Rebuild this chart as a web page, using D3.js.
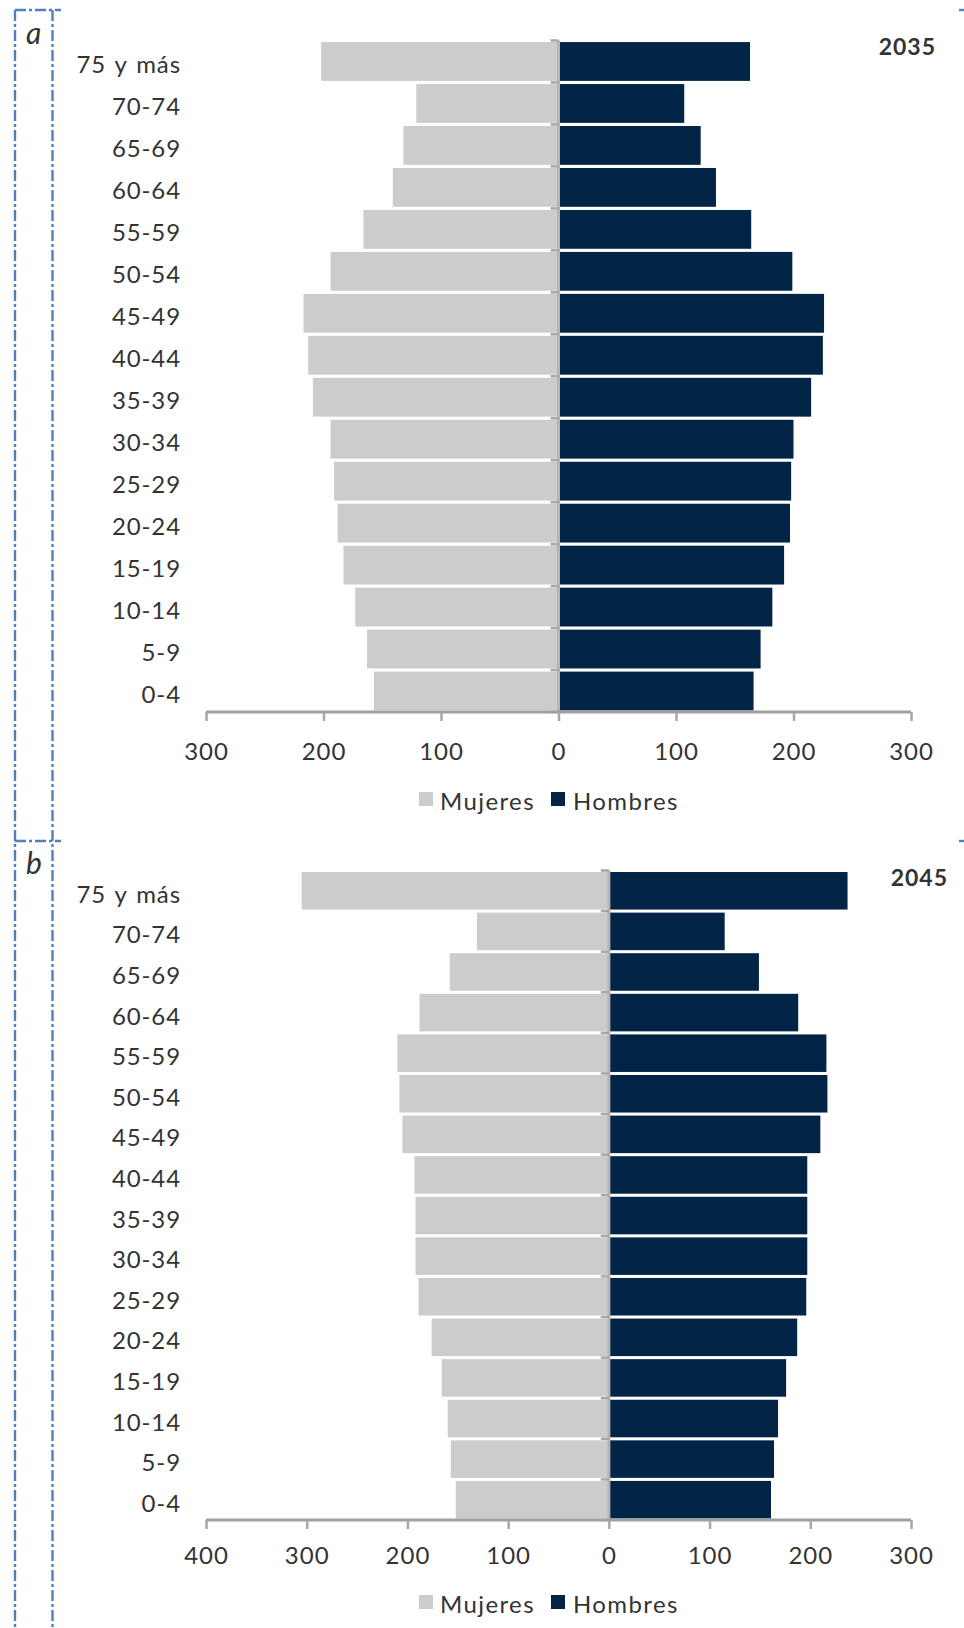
<!DOCTYPE html>
<html><head><meta charset="utf-8">
<script src="https://cdn.jsdelivr.net/npm/d3@7"></script>
<style>
html,body{margin:0;padding:0;background:#fff;}
svg{display:block;}
text{font-family:Lato,"Open Sans",sans-serif;fill:#333;}
</style></head>
<body>
<svg id="chart" width="964" height="1628"></svg>
<script>
const categories = ["75 y más","70-74","65-69","60-64","55-59","50-54","45-49","40-44","35-39","30-34","25-29","20-24","15-19","10-14","5-9","0-4"];
const mujeres2035 = [202,121,132,141,166,194,217,213,209,194,191,188,183,173,163,157];
const hombres2035 = [163,107,121,134,164,199,226,225,215,200,198,197,192,182,172,166];
const mujeres2045 = [305,131,158,188,210,208,205,193,192,192,189,176,166,160,157,152];
const hombres2045 = [237,115,149,188,216,217,210,197,197,197,196,187,176,168,164,161];
const ticks2035 = [-300,-200,-100,0,100,200,300];
const ticks2045 = [-400,-300,-200,-100,0,100,200,300];
const seriesNames = ["Mujeres","Hombres"];
const colors = ["#cccccc","#022547"];

const svg = d3.select("#chart");
svg.append("rect").attr("width",964).attr("height",1628).attr("fill","#fff");

// dashed frame
const frame = svg.append("g").attr("stroke","#4f81bd").attr("stroke-width",2.4).attr("stroke-dasharray","11,3,3,3").attr("fill","none");
frame.append("line").attr("x1",15).attr("x2",15).attr("y1",10).attr("y2",1628);
frame.append("line").attr("x1",52.5).attr("x2",52.5).attr("y1",10).attr("y2",1628);
frame.append("line").attr("x1",15).attr("x2",61).attr("y1",10).attr("y2",10);
frame.append("line").attr("x1",15).attr("x2",61).attr("y1",841).attr("y2",841);
frame.append("line").attr("x1",959).attr("x2",964).attr("y1",10).attr("y2",10).attr("stroke-dasharray",null);
frame.append("line").attr("x1",959).attr("x2",964).attr("y1",841).attr("y2",841).attr("stroke-dasharray",null);

svg.append("text").attr("x",26).attr("y",44).attr("font-size",30).attr("font-style","italic").text("a");
svg.append("text").attr("x",26).attr("y",874).attr("font-size",30).attr("font-style","italic").text("b");

function pyramid(cfg){
  const g = svg.append("g");
  const x = d3.scaleLinear().domain(cfg.domain).range([206,911]);
  const y = d3.scaleBand().domain(categories).range([cfg.top, cfg.axisY]).paddingInner(0.075).paddingOuter(0.0375);
  const x0 = x(0);
  // bars
  g.selectAll("rect.m").data(categories).join("rect")
    .attr("x",(d,i)=>x(-cfg.mujeres[i])).attr("width",(d,i)=>x0-x(-cfg.mujeres[i]))
    .attr("y",d=>y(d)).attr("height",y.bandwidth()).attr("fill",colors[0]);
  g.selectAll("rect.h").data(categories).join("rect")
    .attr("x",x0).attr("width",(d,i)=>x(cfg.hombres[i])-x0)
    .attr("y",d=>y(d)).attr("height",y.bandwidth()).attr("fill",colors[1]);
  // vertical axis at zero
  g.append("line").attr("x1",x0).attr("x2",x0).attr("y1",cfg.top).attr("y2",cfg.axisY).attr("stroke","#b4b4b4").attr("stroke-width",3);
  d3.range(categories.length+1).forEach(i=>{
    const yy = cfg.top + i*(cfg.axisY-cfg.top)/categories.length;
    g.append("line").attr("x1",x0-8).attr("x2",x0).attr("y1",yy).attr("y2",yy).attr("stroke","#a6a6a6").attr("stroke-width",2.5);
  });
  // category labels
  g.selectAll("text.cat").data(categories).join("text")
    .attr("x",181).attr("y",d=>y(d)+y.bandwidth()/2+12).attr("text-anchor","end")
    .attr("font-size",24).attr("letter-spacing",0.9).attr("word-spacing",2).text(d=>d);
  // x axis
  const axis = d3.axisBottom(x).tickValues(cfg.ticks).tickSize(9).tickPadding(0).tickFormat(d=>Math.abs(d));
  const ag = g.append("g").attr("transform",`translate(0,${cfg.axisY})`).call(axis);
  ag.select(".domain").attr("stroke","#a0a0a0").attr("stroke-width",3).attr("d",`M206,0H911`);
  ag.selectAll(".tick line").attr("stroke","#a6a6a6").attr("stroke-width",2.5);
  ag.selectAll(".tick text").attr("font-size",24).attr("font-family","Lato,sans-serif").attr("fill","#333")
    .attr("letter-spacing",1).attr("dy",null).attr("y",cfg.labelDy);
  // year
  g.append("text").attr("x",cfg.yearX).attr("y",cfg.yearY).attr("text-anchor","end").attr("font-size",23)
    .attr("font-weight","bold").attr("letter-spacing",1).attr("fill","#111").text(cfg.year);
  // legend
  const lg = g.append("g");
  const items = [{x:419,tx:440},{x:551,tx:573}];
  seriesNames.forEach((n,i)=>{
    lg.append("rect").attr("x",items[i].x).attr("y",cfg.legY).attr("width",14).attr("height",14).attr("fill",colors[i]);
    lg.append("text").attr("x",items[i].tx).attr("y",cfg.legY+18).attr("font-size",24).attr("letter-spacing",1.4).text(n);
  });
}

pyramid({domain:[-300,300],top:40.5,axisY:712,mujeres:mujeres2035,hombres:hombres2035,ticks:ticks2035,labelDy:48,year:"2035",yearX:936,yearY:55,legY:792});
pyramid({domain:[-400,300],top:870.5,axisY:1520,mujeres:mujeres2045,hombres:hombres2045,ticks:ticks2045,labelDy:44,year:"2045",yearX:948,yearY:886,legY:1595});
</script>
</body></html>
